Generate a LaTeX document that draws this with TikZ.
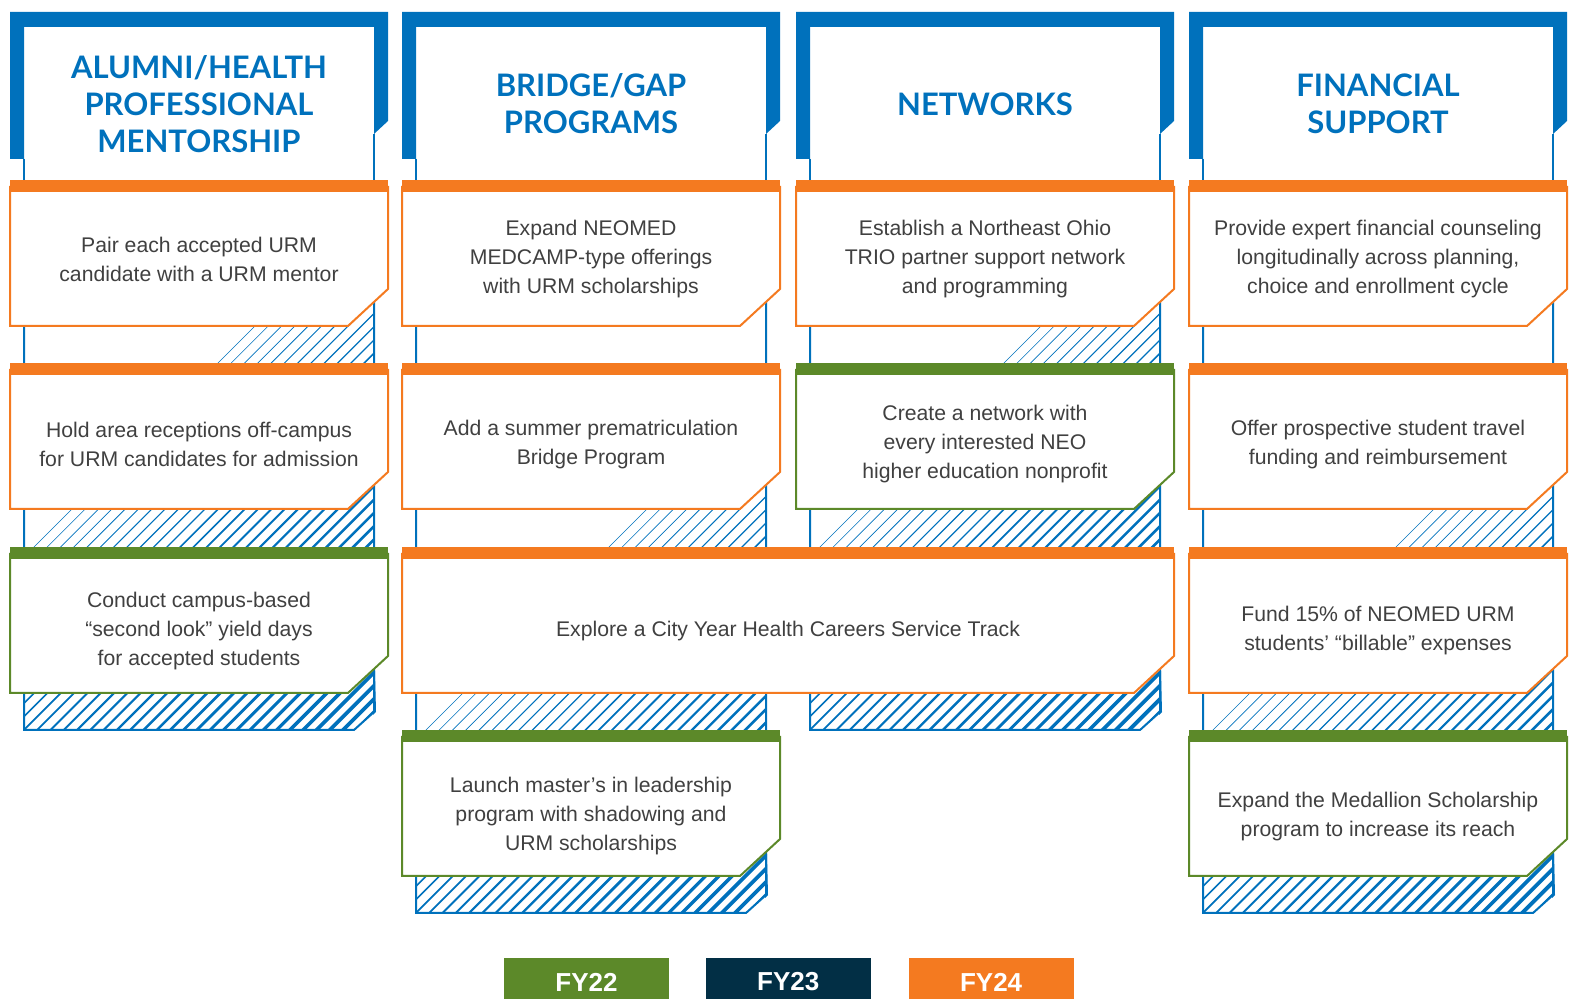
\documentclass[tikz,border=0pt]{standalone}
\usepackage{fontspec}
\setmainfont{Liberation Sans}
\newfontfamily\headfont{Lato}
\usepackage{xcolor}
\usetikzlibrary{positioning}

\definecolor{nblue}{HTML}{0071BC}
\definecolor{norange}{HTML}{F47A20}
\definecolor{ngreen}{HTML}{5C8929}
\definecolor{nnavy}{HTML}{022F45}
\definecolor{ntext}{HTML}{404040}

% #1 left x, #2 node name, #3 heading
\newcommand{\colhead}[3]{%
  \fill[nblue] (#1,159) -- (#1,12) -- ({#1+378},12) -- ({#1+378},121) -- ({#1+364},134)
    -- ({#1+364},27) -- ({#1+14},27) -- ({#1+14},159) -- cycle;
  \draw[nblue, line width=1pt] ({#1+14},159) -- ({#1+14},180) ({#1+364},134) -- ({#1+364},180);
  \node[head] (#2) at ({#1+189},104) {#3};
}

% #1 left x, #2 bottom y
\newcommand{\hatchcol}[2]{%
  \begin{scope}
    \clip ({#1+14},180) -- ({#1+14},#2) -- ({#1+344},#2) -- ({#1+364},{#2-18}) -- ({#1+364},180) -- cycle;
    \foreach \d in {349,335.7,...,-190} {
      \pgfmathsetmacro\w{0.25+1.75*(\d+190)/539}
      \draw[nblue, line width=\w pt] ({#1+14+\d},{#2+10}) -- ++(700,-700);
    }
  \end{scope}
  \draw[nblue, line width=1pt] ({#1+364},180) -- ({#1+364},{#2-18}) -- ({#1+344},#2) -- ({#1+14},#2) -- ({#1+14},180);
  \fill[nblue] ({#1+363},{#2-140}) -- ({#1+366},{#2-18}) -- ({#1+363},{#2-15}) -- cycle;
}

% #1 left x, #2 right x, #3 top y, #4 colour, #5 node name, #6 text
\newcommand{\card}[6]{%
  \filldraw[fill=white, draw=#4, line width=1pt] (#1,{#3+6}) -- (#1,{#3+146}) -- ({#2-40},{#3+146})
    -- (#2,{#3+109}) -- (#2,{#3+6});
  \fill[#4] (#1,#3) rectangle (#2,{#3+12});
  \node[body] (#5) at ({(#1+#2)/2},{#3+79+0.013*(#3-180)}) {#6};
}

\begin{document}
\begin{tikzpicture}[
    x=0.5pt, y=-0.5pt,
    head/.style={font=\headfont\bfseries\fontsize{15.5}{18.5}\selectfont, text=nblue, align=center},
    body/.style={font=\fontsize{10.6}{14.5}\selectfont, text=ntext, align=center},
    tag/.style={font=\bfseries\fontsize{13}{15}\selectfont, text=white, minimum width=82.5pt,
        minimum height=24pt, inner sep=0pt}
]
\useasboundingbox (0,0) rectangle (1571,999);
\clip (0,0) rectangle (1571,999);

\colhead{10}{mentor}{ALUMNI/HEALTH\\PROFESSIONAL\\MENTORSHIP}
\colhead{402}{bridge}{BRIDGE/GAP\\PROGRAMS}
\colhead{796}{networks}{NETWORKS}
\colhead{1189}{finance}{FINANCIAL\\SUPPORT}

\hatchcol{10}{730}
\hatchcol{402}{913}
\hatchcol{796}{730}
\hatchcol{1189}{913}

\card{10}{388}{180}{norange}{pair}{Pair each accepted URM\\candidate with a URM mentor}
\card{10}{388}{363}{norange}{receptions}{Hold area receptions off-campus\\for URM candidates for admission}
\card{10}{388}{547}{ngreen}{secondlook}{Conduct campus-based\\“second look” yield days\\for accepted students}

\card{402}{780}{180}{norange}{medcamp}{Expand NEOMED\\MEDCAMP-type offerings\\with URM scholarships}
\card{402}{780}{363}{norange}{summer}{Add a summer prematriculation\\Bridge Program}
\card{402}{1174}{547}{norange}{cityyear}{Explore a City Year Health Careers Service Track}
\card{402}{780}{730}{ngreen}{masters}{Launch master’s in leadership\\program with shadowing and\\URM scholarships}

\card{796}{1174}{180}{norange}{trio}{Establish a Northeast Ohio\\TRIO partner support network\\and programming}
\card{796}{1174}{363}{ngreen}{nonprofit}{Create a network with\\every interested NEO\\higher education nonprofit}

\card{1189}{1567}{180}{norange}{counsel}{Provide expert financial counseling\\longitudinally across planning,\\choice and enrollment cycle}
\card{1189}{1567}{363}{norange}{travel}{Offer prospective student travel\\funding and reimbursement}
\card{1189}{1567}{547}{norange}{billable}{Fund 15\% of NEOMED URM\\students’ “billable” expenses}
\card{1189}{1567}{730}{ngreen}{medallion}{Expand the Medallion Scholarship\\program to increase its reach}

\node[tag, fill=ngreen] (fy22) at (586.5,982) {FY22};
\node[tag, fill=nnavy, right=18pt of fy22] (fy23) {FY23};
\node[tag, fill=norange, right=18.5pt of fy23] (fy24) {FY24};
\end{tikzpicture}
\end{document}
